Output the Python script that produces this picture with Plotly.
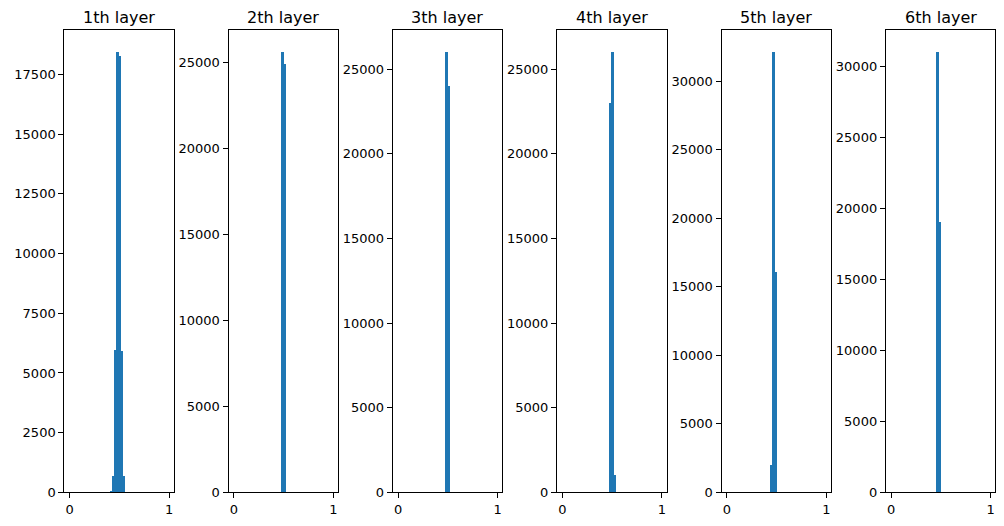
import plotly.graph_objects as go

# ---- data ----
layer_titles = ["1th layer", "2th layer", "3th layer", "4th layer", "5th layer", "6th layer"]
bin_width = 0.02
# left edges of the non-empty bins and their counts for each layer
layer1_edges = [0.416, 0.436, 0.456, 0.476, 0.496, 0.516, 0.536]
layer1_counts = [30, 653, 5958, 18433, 18280, 5915, 653]
layer2_edges = [0.476, 0.496]
layer2_counts = [25600, 24900]
layer3_edges = [0.476, 0.496]
layer3_counts = [26000, 24000]
layer4_edges = [0.476, 0.496, 0.516]
layer4_counts = [23010, 26000, 1020]
layer5_edges = [0.436, 0.456, 0.476]
layer5_counts = [2000, 32100, 16050]
layer6_edges = [0.456, 0.476]
layer6_counts = [31000, 19000]
y_dticks = [2500, 5000, 5000, 5000, 5000, 5000]
x_ticks = [0, 1]

edges_all = [layer1_edges, layer2_edges, layer3_edges, layer4_edges, layer5_edges, layer6_edges]
counts_all = [layer1_counts, layer2_counts, layer3_counts, layer4_counts, layer5_counts, layer6_counts]

# page body has an 8px margin on every side; keep the figure inside the window
OFF = 8
W, H = 1004 - 2 * OFF, 526 - 2 * OFF
lefts_px = [64.3, 228.5, 392.7, 557.0, 721.5, 885.8]
width_px = 109.5
top_px, bottom_px = 30.3, 492.3

fig = go.Figure()
annotations = []
layout_axes = {}
for i in range(6):
    n = "" if i == 0 else str(i + 1)
    xa, ya = "x" + n, "y" + n
    fig.add_trace(go.Bar(
        x=edges_all[i], y=counts_all[i], width=bin_width, offset=0,
        marker=dict(color="#1f77b4", line=dict(width=0)),
        xaxis=xa, yaxis=ya, showlegend=False,
    ))
    x0 = (lefts_px[i] - OFF) / W
    x1 = (lefts_px[i] + width_px - OFF) / W
    yb = 1 - (bottom_px - OFF) / H
    yt = 1 - (top_px - OFF) / H
    ymax = max(counts_all[i]) * 1.05
    common = dict(showline=True, linecolor="black", linewidth=1, mirror=True,
                  ticks="outside", ticklen=5, tickwidth=1, tickcolor="black",
                  showgrid=False, zeroline=False, automargin=False,
                  tickfont=dict(family="DejaVu Sans", size=13, color="black"))
    layout_axes["xaxis" + n] = dict(domain=[x0, x1], anchor=ya, range=[-0.054, 1.046],
                                    tickmode="array", tickvals=x_ticks,
                                    ticktext=[str(t) for t in x_ticks], **common)
    layout_axes["yaxis" + n] = dict(domain=[yb, yt], anchor=xa,
                                    range=[0, ymax], tickmode="linear", tick0=0,
                                    dtick=y_dticks[i], tickformat="d", **common)
    annotations.append(dict(text=layer_titles[i], x=(x0 + x1) / 2, y=yt,
                            xref="paper", yref="paper", xanchor="center", yanchor="bottom",
                            yshift=1, showarrow=False,
                            font=dict(family="DejaVu Sans", size=16, color="black")))

fig.update_layout(width=W, height=H, autosize=False,
                  margin=dict(l=0, r=0, t=0, b=0, autoexpand=False),
                  paper_bgcolor="white", plot_bgcolor="white",
                  bargap=0, annotations=annotations, **layout_axes)

fig.write_html("out.html")
